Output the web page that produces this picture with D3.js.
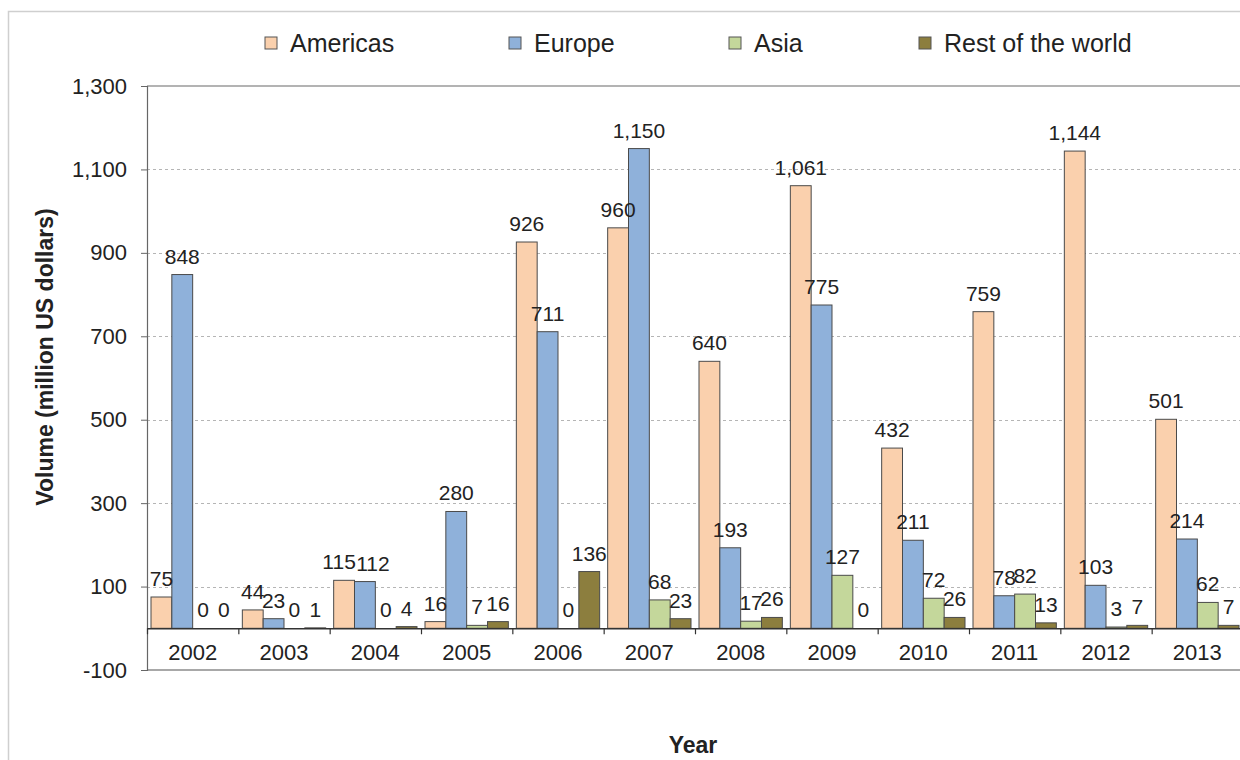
<!DOCTYPE html>
<html>
<head>
<meta charset="utf-8">
<script src="https://cdn.jsdelivr.net/npm/d3@7/dist/d3.min.js"></script>
<style>
  html, body { margin: 0; padding: 0; background: #fff; }
  svg { display: block; font-family: "Liberation Sans", Arial, sans-serif; }
</style>
</head>
<body>
<svg id="chart" width="1240" height="760"></svg>
<script>
const years = ["2002","2003","2004","2005","2006","2007","2008","2009","2010","2011","2012","2013"];
const seriesNames = ["Americas","Europe","Asia","Rest of the world"];
const americas = [75, 44, 115, 16, 926, 960, 640, 1061, 432, 759, 1144, 501];
const europe   = [848, 23, 112, 280, 711, 1150, 193, 775, 211, 78, 103, 214];
const asia     = [0, 0, 0, 7, 0, 68, 17, 127, 72, 82, 3, 62];
const rest     = [0, 1, 4, 16, 136, 23, 26, 0, 26, 13, 7, 7];
const yTicks   = [-100, 100, 300, 500, 700, 900, 1100, 1300];
const colors   = ["#fad0ad", "#8fb1da", "#c4d79b", "#8c7e3e"];

const seriesValues = [americas, europe, asia, rest];

const svg = d3.select("#chart");
const plotL = 147, plotR = 1243, plotT = 86, plotB = 670;
const fmt = v => d3.format(",")(v).replace("\u2212", "-");

// outer frame
svg.append("rect").attr("x", 8.5).attr("y", 11.5).attr("width", 1300).attr("height", 900)
  .attr("fill", "#fff").attr("stroke", "#cfcfcf").attr("stroke-width", 1.5);

const y = d3.scaleLinear().domain([-100, 1300]).range([plotB, plotT]);
const x0 = d3.scaleBand().domain(years).range([plotL, plotR]);
const bw = x0.bandwidth();
const x1 = d3.scaleBand().domain(seriesNames).range([4, bw - 4]);

// gridlines
svg.append("g").selectAll("line").data(yTicks.filter(t => t !== -100 && t !== 1300)).join("line")
  .attr("x1", plotL).attr("x2", plotR)
  .attr("y1", d => Math.round(y(d)) + 0.5).attr("y2", d => Math.round(y(d)) + 0.5)
  .attr("stroke", "#b5b5b5").attr("stroke-dasharray", "3,3").attr("stroke-width", 1);

// top border and bottom border
svg.append("line").attr("x1", plotL).attr("x2", plotR)
  .attr("y1", y(1300)).attr("y2", y(1300)).attr("stroke", "#9a9a9a").attr("stroke-width", 1.5);
svg.append("line").attr("x1", plotL).attr("x2", plotR)
  .attr("y1", y(-100)).attr("y2", y(-100)).attr("stroke", "#a8a8a8").attr("stroke-width", 2);

// y axis
const yAxis = d3.axisLeft(y).tickValues(yTicks).tickSize(6).tickPadding(14).tickFormat(fmt);
const ya = svg.append("g").attr("transform", `translate(${plotL},0)`).call(yAxis);
ya.select(".domain").attr("stroke", "#666").attr("stroke-width", 1.2);
ya.selectAll(".tick line").attr("stroke", "#666");
ya.selectAll(".tick text").attr("font-size", 22).attr("fill", "#222")
  .attr("font-family", "Liberation Sans, Arial, sans-serif");

// bars
const groups = svg.append("g").selectAll("g").data(years).join("g")
  .attr("transform", d => `translate(${x0(d)},0)`);

// manual label nudges (as in the reference, where two labels were moved apart)
const labelNudge = { "2004|Americas": -5, "2004|Europe": 8 };

groups.each(function(yr, i) {
  const gg = d3.select(this);
  const vals = seriesNames.map((s, k) => ({ s, k, v: seriesValues[k][i] }));
  gg.selectAll("rect").data(vals).join("rect")
    .attr("x", d => x1(d.s))
    .attr("width", x1.bandwidth())
    .attr("y", d => y(Math.max(0, d.v)))
    .attr("height", d => Math.abs(y(d.v) - y(0)))
    .attr("fill", d => colors[d.k])
    .attr("stroke", "#4a4a4a").attr("stroke-width", 1);
  gg.selectAll("text").data(vals).join("text")
    .attr("x", d => x1(d.s) + x1.bandwidth() / 2 + (labelNudge[yr + "|" + d.s] || 0))
    .attr("y", d => y(d.v) - 11)
    .attr("text-anchor", "middle")
    .attr("font-size", 21)
    .attr("fill", "#222")
    .text(d => fmt(d.v));
});

// zero axis
const xAxis = d3.axisBottom(x0).tickSize(0).tickPadding(16);
const xa = svg.append("g").attr("transform", `translate(0,${y(0)})`).call(xAxis);
xa.select(".domain").attr("stroke", "#333").attr("stroke-width", 1.5);
xa.selectAll(".tick text").attr("font-size", 22).attr("fill", "#222")
  .attr("font-family", "Liberation Sans, Arial, sans-serif");
// category boundary ticks
svg.append("g").selectAll("line").data(years).join("line")
  .attr("x1", d => x0(d) + 0.5).attr("x2", d => x0(d) + 0.5)
  .attr("y1", y(0)).attr("y2", y(0) + 6)
  .attr("stroke", "#333").attr("stroke-width", 1.2);

// legend
const legendX = [265, 509, 729, 919];
const lg = svg.append("g").selectAll("g").data(seriesNames).join("g")
  .attr("transform", (d, i) => `translate(${legendX[i]},43)`);
lg.append("rect").attr("x", 0).attr("y", -6).attr("width", 12).attr("height", 12)
  .attr("fill", (d, i) => colors[i]).attr("stroke", "#555").attr("stroke-width", 1);
lg.append("text").attr("x", 25).attr("y", 0).attr("dy", "0.36em")
  .attr("font-size", 25).attr("fill", "#222").text(d => d);

// axis titles
svg.append("text").attr("transform", "translate(45,357) rotate(-90)")
  .attr("text-anchor", "middle").attr("dy", "0.36em")
  .attr("font-size", 23).attr("font-weight", "bold").attr("fill", "#222")
  .text("Volume (million US dollars)");
svg.append("text").attr("x", 693).attr("y", 745).attr("dy", "0.36em")
  .attr("text-anchor", "middle")
  .attr("font-size", 23).attr("font-weight", "bold").attr("fill", "#222")
  .text("Year");
</script>
</body>
</html>
